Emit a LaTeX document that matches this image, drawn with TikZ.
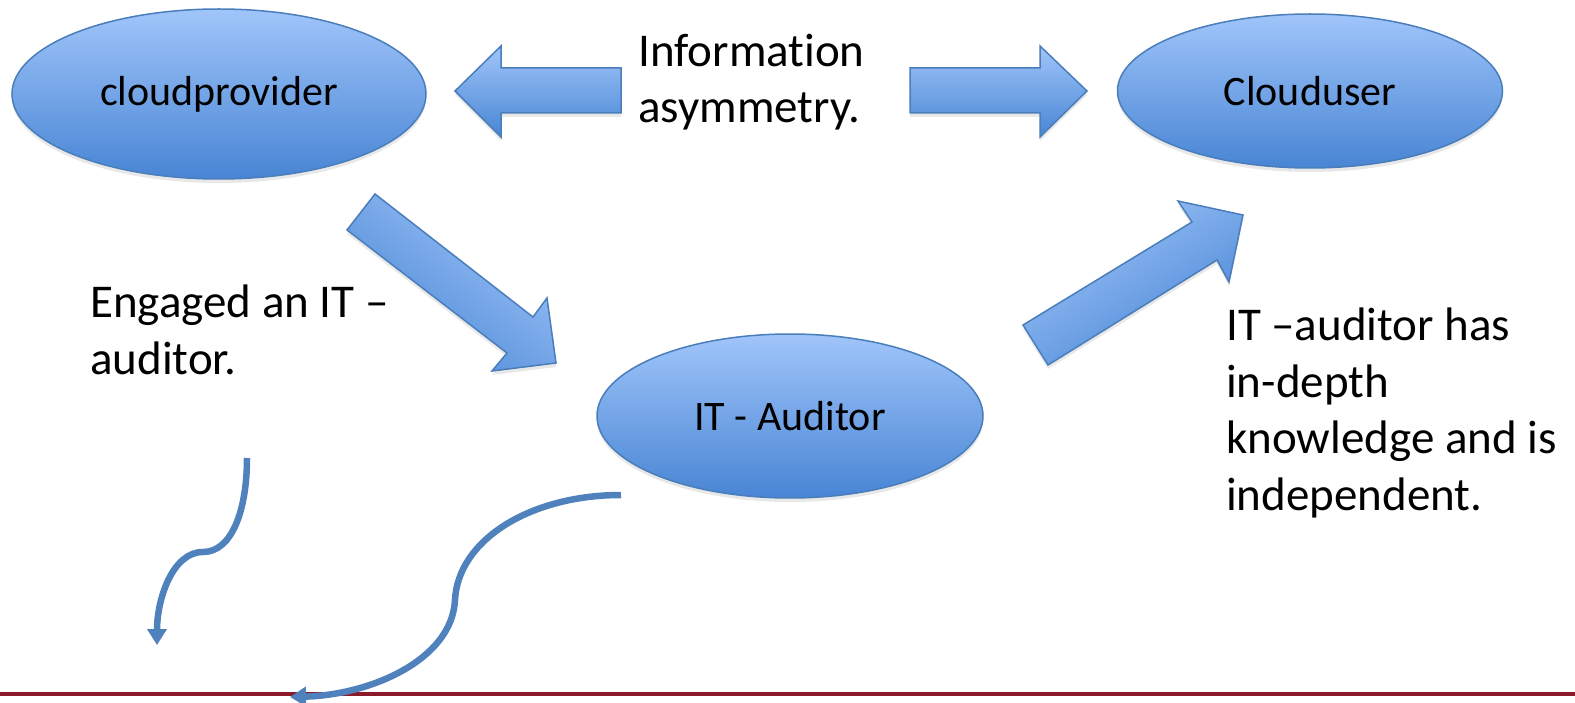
\documentclass[tikz,border=0pt]{standalone}
\usepackage{fontspec}
\setmainfont{Carlito}[Ligatures={NoCommon,NoContextual}]
\usetikzlibrary{shapes.geometric,arrows.meta,shadows}

\definecolor{shapetop}{RGB}{160,197,250}
\definecolor{shapebot}{RGB}{72,133,212}
\definecolor{shapeline}{RGB}{74,126,187}
\definecolor{curveblue}{RGB}{79,129,189}
\definecolor{barred}{RGB}{139,26,42}

\tikzset{
  softshadow/.style={drop shadow={shadow xshift=0pt, shadow yshift=-4pt, opacity=0.18}},
  party/.style={ellipse, draw=shapeline, line width=1.5pt, top color=shapetop,
    bottom color=shapebot, inner sep=0pt, softshadow,
    font=\fontsize{42}{50}\selectfont},
  blockarrow/.style={draw=shapeline, line width=1.5pt, line join=miter,
    top color=shapetop, bottom color=shapebot, softshadow},
  remark/.style={anchor=base west, align=left, inner sep=0pt,
    font=\fontsize{47}{56.5}\selectfont},
  curvedarrow/.style={draw=curveblue, line width=6.5pt, -{Triangle[width=19pt,length=16pt]}}
}

\begin{document}
\begin{tikzpicture}[x=1pt,y=-1pt]
	\useasboundingbox (0,0) rectangle (1575,703);

	% provider, user, auditor
	\node[party, minimum width=414pt, minimum height=170pt] (provider) at (219,94) {cloudprovider};
	\node[party, minimum width=385pt, minimum height=154pt] (user) at (1310,91) {Clouduser};
	\node[party, minimum width=386pt, minimum height=164pt] (auditor) at (790,416) {IT - Auditor};

	% information asymmetry, both ways
	\path[blockarrow] (455,91) -- (501,46) -- (501,68) -- (621,68) -- (621,113)
		-- (501,113) -- (501,137) -- cycle;
	\path[blockarrow] (910,68) -- (1040,68) -- (1040,46) -- (1087,91) -- (1040,137)
		-- (1040,113) -- (910,113) -- cycle;
	% base anchor sits at the last line
	\node[remark] (asym) at (638,123) {Information\\asymmetry.};

	% provider to auditor, auditor to user
	\path[blockarrow, shading angle=-38] (375,194) -- (533,317) -- (547,298) -- (556,363)
		-- (492,371) -- (507,353) -- (347,230) -- cycle;
	\path[blockarrow, shading angle=32] (1023,325) -- (1192,222) -- (1178,201) -- (1243,215)
		-- (1229,282) -- (1217,260) -- (1048,365) -- cycle;

	\node[remark] (engaged) at (90,374) {Engaged an IT –\\auditor.};
	\node[remark] (knowledge) at (1226,510) {IT –auditor has\\in-depth\\knowledge and is\\independent.};

	% bottom rule
	\draw[barred, line width=4pt] (0,694) -- (1575,694);

	% curved arrows, free ends
	\coordinate (engaged from) at (247,458);
	\coordinate (engaged to) at (157,645);
	\coordinate (auditor from) at (621,495);
	\coordinate (auditor to) at (290,697);

	\draw[curvedarrow] (engaged from) .. controls (247,510) and (232,552) .. (203,552)
		.. controls (172,552) and (157,600) .. (engaged to);
	\draw[curvedarrow] (auditor from) .. controls (530,495) and (458,540) .. (455,600)
		.. controls (452,660) and (370,695) .. (auditor to);
\end{tikzpicture}
\end{document}
